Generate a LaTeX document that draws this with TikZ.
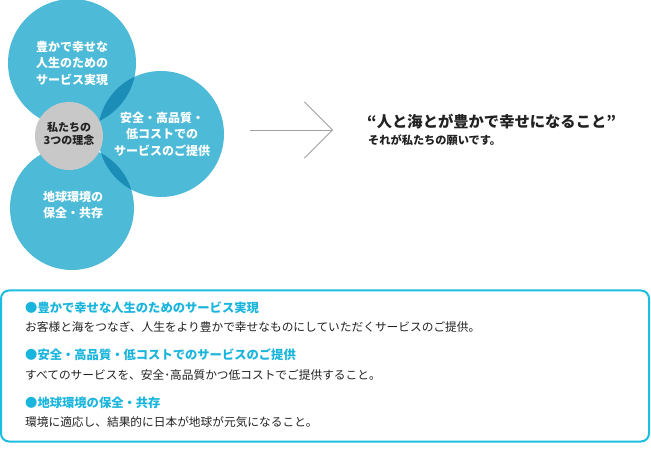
\documentclass[tikz,border=0pt]{standalone}
\usepackage{fontspec}
\setmainfont{Noto Sans CJK JP}
\usepackage{tikz}
\usetikzlibrary{arrows.meta,positioning}
\definecolor{rinenblue}{HTML}{4DBBD8}
\definecolor{rinendark}{HTML}{1B8DB6}
\definecolor{rinengray}{HTML}{C8C8C8}
\definecolor{framecyan}{HTML}{1DBDE1}
\definecolor{headcyan}{HTML}{1AB5DD}
\definecolor{arrowgray}{HTML}{A0A0A0}
\definecolor{inkgray}{HTML}{222222}

\begin{document}
\begin{tikzpicture}[
  x=1pt, y=-1pt,
  bubble/.style={circle, fill=rinenblue, inner sep=0pt},
  core/.style={circle, fill=rinengray, inner sep=0pt, minimum size=68pt},
  bubbletext/.style={text=white, align=center, font=\bfseries\fontsize{12}{16.5}\selectfont},
  coretext/.style={text=inkgray, align=center, font=\bfseries\fontsize{11}{13.5}\selectfont},
  headline/.style={anchor=west, inner sep=0pt, text=headcyan, font=\bfseries\fontsize{12.3}{14}\selectfont},
  bodyline/.style={anchor=west, inner sep=0pt, text=inkgray, font=\fontsize{11.7}{14}\selectfont},
  pointer/.style={draw=arrowgray, line width=0.8pt, -{Straight Barb[length=28pt, width=56pt, line width=0.8pt]}}
]
\useasboundingbox (0,0) rectangle (651,457);

% three ideals
\node[bubble, minimum size=128pt] (ideal1) at (72,63) {};
\node[bubble, minimum size=126pt] (ideal2) at (161,134) {};
\node[bubble, minimum size=124pt] (ideal3) at (72,208) {};
\begin{scope}
  \clip (ideal2.center) circle (63pt);
  \fill[rinendark] (ideal1.center) circle (64pt);
  \fill[rinendark] (ideal3.center) circle (62pt);
\end{scope}
\node[bubbletext] (text1) at (72,63) {豊かで幸せな\\人生のための\\サービス実現};
\node[bubbletext] (text2) at (162,134) {安全・高品質・\\低コストでの\\サービスのご提供};
\node[bubbletext] (text3) at (73,205) {地球環境の\\保全・共存};
\node[core] (center) at (69,136) {};
\node[coretext] at (69,133.5) {私たちの\\3つの理念};

% arrow and message
\coordinate (arrtail) at (250,130);
\coordinate (arrtip) at (333,130);
\draw[pointer] (arrtail) -- (arrtip);
\node[anchor=west, inner sep=0pt, text=inkgray, font=\bfseries\fontsize{15.3}{18}\selectfont] (motto) at (367,122) {“人と海とが豊かで幸せになること”};
\node[anchor=west, inner sep=0pt, text=inkgray, font=\bfseries\fontsize{11.2}{13}\selectfont] (wish) at (368,140) {それが私たちの願いです。};

% explanation box
\node[draw=framecyan, line width=2pt, rounded corners=8pt, minimum width=648pt, minimum height=151pt, inner sep=0pt] (frame) at (325,366) {};
\node[headline] (head1) at (25,308) {●豊かで幸せな人生のためのサービス実現};
\node[bodyline] (body1) at (25,327) {お客様と海をつなぎ、人生をより豊かで幸せなものにしていただくサービスのご提供。};
\node[headline] (head2) at (25,355) {●安全・高品質・低コストでのサービスのご提供};
\node[bodyline] (body2) at (25,375) {すべてのサービスを、安全･高品質かつ低コストでご提供すること。};
\node[headline] (head3) at (25,403) {●地球環境の保全・共存};
\node[bodyline] (body3) at (25,422) {環境に適応し、結果的に日本が地球が元気になること。};
\end{tikzpicture}
\end{document}
